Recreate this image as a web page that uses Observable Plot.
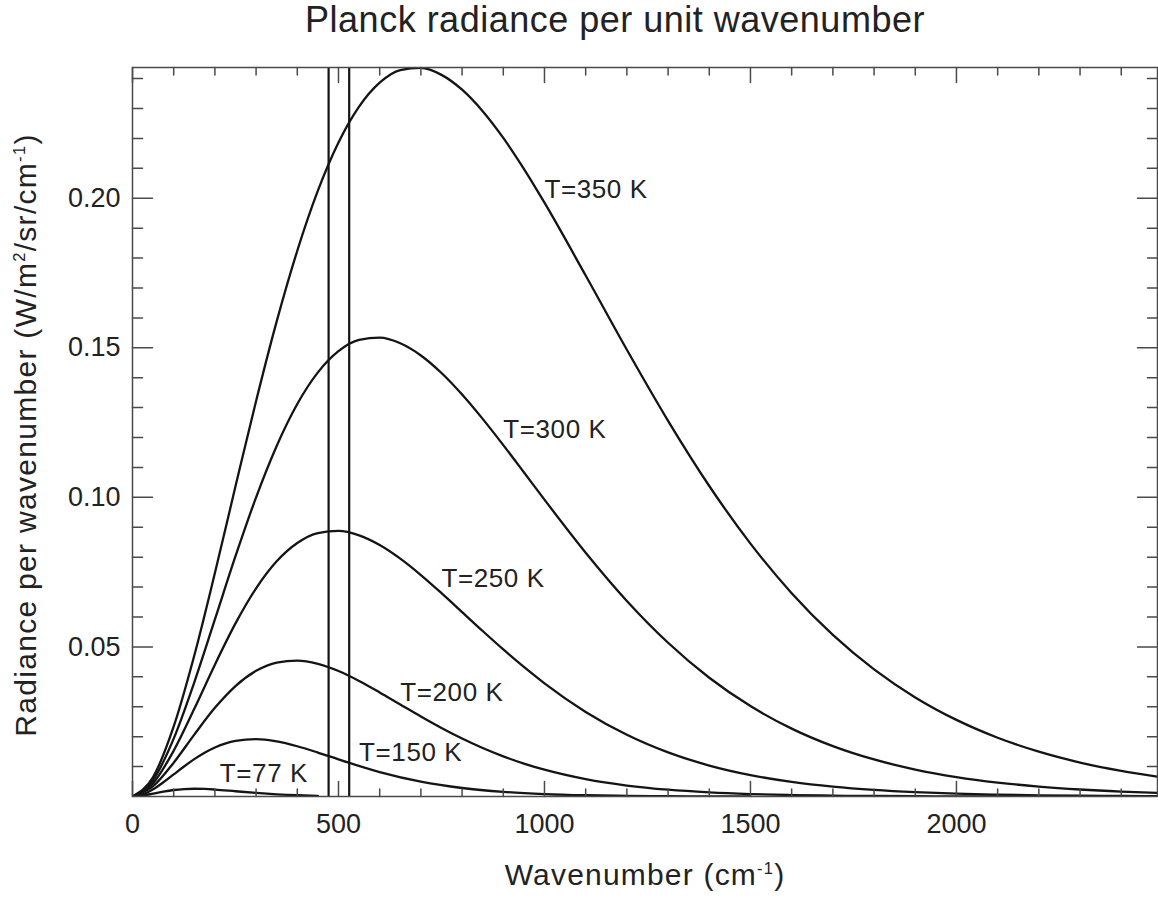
<!DOCTYPE html>
<html>
<head>
<meta charset="utf-8">
<script src="https://cdn.jsdelivr.net/npm/d3@7"></script>
<script src="https://cdn.jsdelivr.net/npm/@observablehq/plot@0.6"></script>
<style>
html, body { margin: 0; padding: 0; background: #fff; }
#title {
  height: 50px; box-sizing: border-box; padding-top: 2px; padding-left: 72px;
  line-height: 36px; font-size: 36px; text-align: center; white-space: nowrap;
  font-family: "Liberation Sans", Arial, Helvetica, sans-serif; color: #222; letter-spacing: 0.5px;
}
</style>
</head>
<body>
<div id="title">Planck radiance per unit wavenumber</div>
<div id="chart"></div>
<script>
// ---- data (radiance in W/m²/sr/cm⁻¹) ----
const wavenumbers = [0, 50, 100, 150, 200, 250, 300, 350, 400, 450, 500, 550, 600, 650, 700, 750, 800, 850, 900, 950, 1000,
  1100, 1200, 1300, 1400, 1500, 1600, 1700, 1800, 1900, 2000, 2100, 2200, 2300, 2400, 2500];
const radiance350 = [0, 0.006525, 0.023424, 0.047146, 0.07470, 0.10370, 0.13221, 0.15882, 0.18245, 0.20251,
  0.21861, 0.23061, 0.23861, 0.24282, 0.24358, 0.24124, 0.23628, 0.22910, 0.22016, 0.20982, 0.19850,
  0.17416, 0.14934, 0.12559, 0.10380, 0.08455,
  0.06797, 0.05402, 0.04250, 0.03313, 0.02561, 0.01965, 0.01498, 0.011346, 0.008546, 0.006403];
const radiance300 = [0, 0.005494, 0.019353, 0.03817, 0.05919, 0.08033, 0.10001, 0.11719, 0.13119, 0.14177,
  0.14886, 0.15263, 0.15339, 0.15151, 0.14744, 0.14158, 0.13439, 0.12623, 0.11747, 0.10838, 0.09923,
  0.08150, 0.06537, 0.05139, 0.03970, 0.03022,
  0.02269, 0.016845, 0.012377, 0.009011, 0.006505, 0.004662, 0.003318, 0.002347, 0.001651, 0.001155];
const radiance250 = [0, 0.004466, 0.015307, 0.02932, 0.04408, 0.05787, 0.06959, 0.07862, 0.08474, 0.08804,
  0.08877, 0.08730, 0.08407, 0.07951, 0.07403, 0.06797, 0.06166, 0.05532, 0.04916, 0.04330, 0.03783,
  0.02828, 0.02063, 0.014749, 0.010356, 0.007163,
  0.004888, 0.003298, 0.002202, 0.001456, 0.000955, 0.000622, 0.000402, 0.000258, 0.000165, 0.000105];
const radiance200 = [0, 0.003440, 0.011308, 0.0207, 0.02963, 0.03692, 0.04201, 0.04479, 0.04545, 0.04436,
  0.04195, 0.03864, 0.03480, 0.03075, 0.02673, 0.02290, 0.01937, 0.016198, 0.013411, 0.011001, 0.008952,
  0.005801, 0.003667, 0.002271, 0.001381, 0.000827,
  0.000489, 0.000286, 0.000165, 0.0000946, 0.0000537, 0.0000301, 0.000017, 0.0000094, 0.0000052, 0.0000029];
const wavenumbers150 = [0, 25, 50, 75, 100, 125, 150, 175, 200, 250, 300, 350, 400, 450, 500, 600, 700,
  800, 900, 1000, 1100, 1200, 1300, 1400, 1500];
const radiance150 = [0, 0.000687, 0.002420, 0.004771, 0.007399, 0.010041, 0.012501, 0.014647, 0.016399,
  0.018608, 0.019175, 0.018431, 0.016797, 0.014682, 0.012404, 0.008171, 0.004963, 0.002837, 0.001547,
  0.000813, 0.000415, 0.000206, 0.000101, 0.0000481, 0.0000227];
const wavenumbers77 = [0, 25, 50, 75, 100, 125, 150, 175, 200, 250, 300, 350, 400, 450];
const radiance77 = [0, 0.0003126, 0.0009635, 0.0016414, 0.0021737, 0.0024914, 0.002595, 0.002522,
  0.002325, 0.001758, 0.001187, 0.000739, 0.000433, 0.000242];

const curveLabels = ["T=350 K", "T=300 K", "T=250 K", "T=200 K", "T=150 K", "T=77 K"];
const labelNu = [1000, 900, 750, 650, 550, 212];
const labelRad = [0.200, 0.120, 0.070, 0.032, 0.012, 0.005];
const markerNu = [476, 526];

const xTicksMajor = [0, 500, 1000, 1500, 2000];
const xTicksMinor = [100, 200, 300, 400, 600, 700, 800, 900, 1100, 1200, 1300, 1400, 1600, 1700, 1800, 1900, 2100, 2200, 2300, 2400];
const yTicksMajor = [0.05, 0.10, 0.15, 0.20];
const yTicksMinor = [0.01, 0.02, 0.03, 0.04, 0.06, 0.07, 0.08, 0.09, 0.11, 0.12, 0.13, 0.14, 0.16, 0.17, 0.18, 0.19, 0.21, 0.22, 0.23, 0.24];
const xDomain = [0, 2488];
const yDomain = [0, 0.2437];
const xTitle = "Wavenumber (cm⁻¹)";
const yTitle = "Radiance per wavenumber (W/m²/sr/cm⁻¹)";

// ---- build table ----
const series = [
  {T: 350, nu: wavenumbers, rad: radiance350},
  {T: 300, nu: wavenumbers, rad: radiance300},
  {T: 250, nu: wavenumbers, rad: radiance250},
  {T: 200, nu: wavenumbers, rad: radiance200},
  {T: 150, nu: wavenumbers150, rad: radiance150},
  {T: 77, nu: wavenumbers77, rad: radiance77}
];
const rows = series.flatMap(s => s.nu.map((n, i) => ({T: s.T, nu: n, rad: s.rad[i]})));
const labels = curveLabels.map((t, i) => ({text: t, nu: labelNu[i], rad: labelRad[i]}));

const axisColor = "#4a4a4a";
const tickShape = {draw(ctx, l) { ctx.moveTo(0, 0); ctx.lineTo(0, -l); }};
const tickOpts = {shape: tickShape, anchor: "start", stroke: axisColor, fill: "none", strokeWidth: 1.5};
const ticks = (vals, horizontal, len) => horizontal
  ? [Plot.vector(vals, {...tickOpts, x: d => d, y: yDomain[0], rotate: 0, length: len}),
     Plot.vector(vals, {...tickOpts, x: d => d, y: yDomain[1], rotate: 180, length: len})]
  : [Plot.vector(vals, {...tickOpts, y: d => d, x: xDomain[0], rotate: 90, length: len}),
     Plot.vector(vals, {...tickOpts, y: d => d, x: xDomain[1], rotate: -90, length: len})];

const chart = Plot.plot({
  width: 1158,
  height: 849,
  marginLeft: 132,
  marginRight: 1,
  marginTop: 17,
  marginBottom: 103,
  style: {fontFamily: '"Liberation Sans", Arial, Helvetica, sans-serif', color: "#222", background: "#fff"},
  x: {domain: xDomain, axis: null, label: null},
  y: {domain: yDomain, axis: null, label: null},
  marks: [
    Plot.line(rows, {x: "nu", y: "rad", z: "T", stroke: "#141414", strokeWidth: 2.3, curve: "monotone-x", clip: true}),
    Plot.ruleX(markerNu, {stroke: "#141414", strokeWidth: 2.2}),
    Plot.frame({stroke: axisColor, strokeWidth: 1.5}),
    ...ticks(xTicksMajor, true, 15),
    ...ticks(xTicksMinor, true, 7.5),
    ...ticks(yTicksMajor, false, 20),
    ...ticks(yTicksMinor, false, 10),
    Plot.text(xTicksMajor, {x: d => d, frameAnchor: "bottom", dy: 17, lineAnchor: "top", text: d => String(d), fontSize: 27}),
    Plot.text(yTicksMajor, {y: d => d, frameAnchor: "left", dx: -12, textAnchor: "end", text: d3.format(".2f"), fontSize: 27}),
    Plot.text(labels, {x: "nu", y: "rad", text: "text", textAnchor: "start", lineAnchor: "bottom", fontSize: 26}),
    Plot.text([xTitle], {frameAnchor: "bottom", dy: 88.6, lineAnchor: "bottom", textAnchor: "middle", text: d => d, fontSize: 30}),
    Plot.text([yTitle], {frameAnchor: "left", rotate: -90, dx: -106, dy: 3, textAnchor: "middle", text: d => d, fontSize: 30})
  ]
});

// small superscripts and letter spacing on the text
chart.querySelectorAll("text").forEach(t => {
  const s = t.textContent;
  if (s.startsWith("T=")) t.style.letterSpacing = "0.6px";
  if (s === yTitle) {
    t.style.letterSpacing = "1.3px";
    t.innerHTML = 'Radiance per wavenumber (W/m<tspan font-size="55%" baseline-shift="11px">2</tspan>/sr/cm<tspan font-size="55%" baseline-shift="11px">-1</tspan>)';
  }
  if (s === xTitle) {
    t.style.letterSpacing = "1.2px";
    t.innerHTML = 'Wavenumber (cm<tspan font-size="55%" baseline-shift="11px">-1</tspan>)';
  }
});
document.getElementById("chart").appendChild(chart);
</script>
</body>
</html>
